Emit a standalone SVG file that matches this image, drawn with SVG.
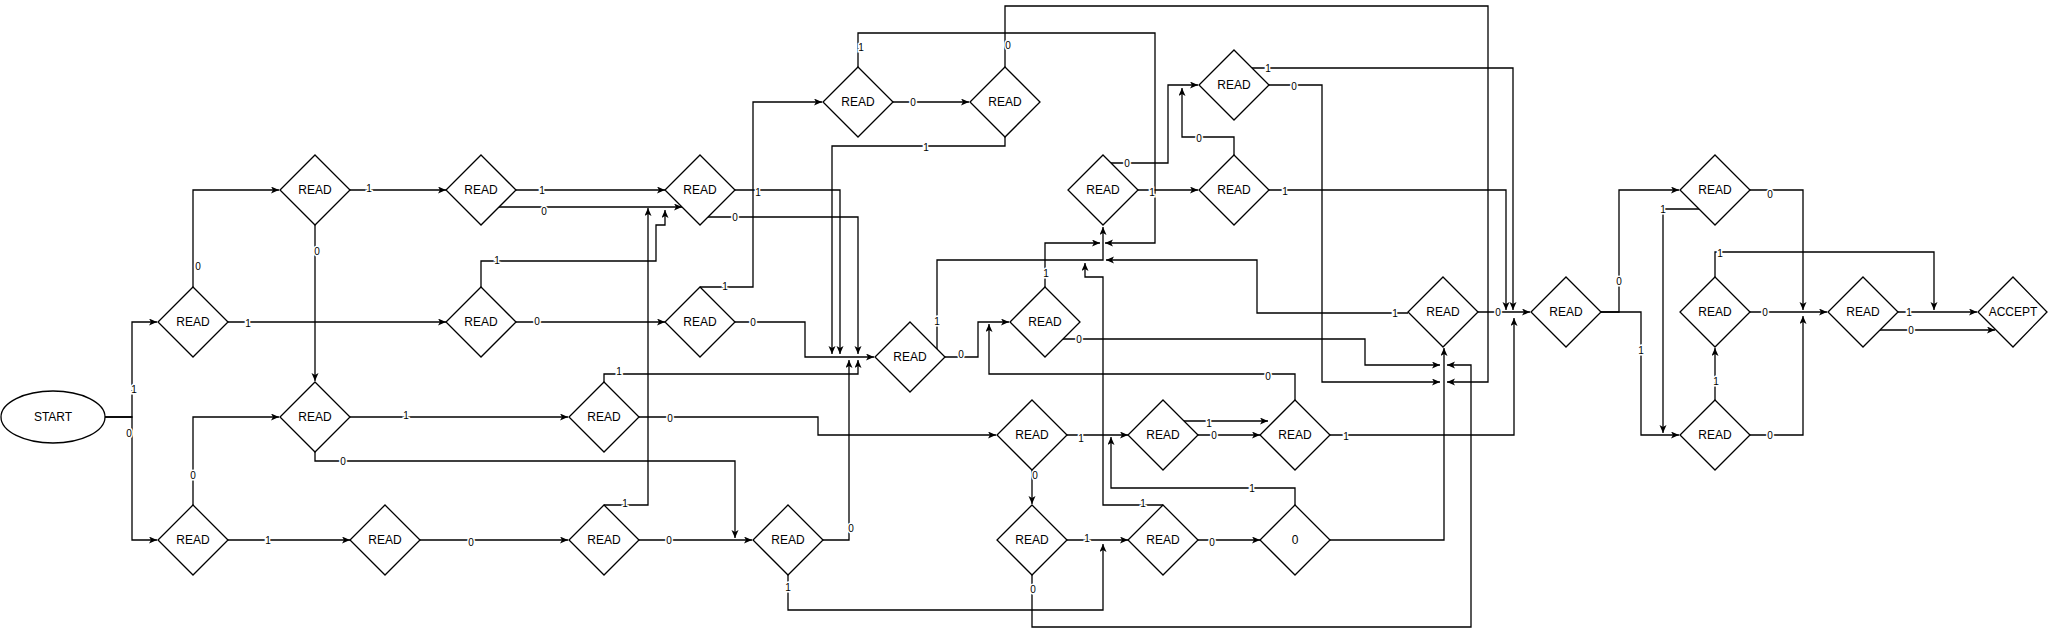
<svg xmlns="http://www.w3.org/2000/svg" width="2048" height="635" viewBox="0 0 2048 635">
<style>
.nd{fill:#fff;stroke:#000;stroke-width:1.3}
.nt{font-family:"Liberation Sans",Arial,sans-serif;font-size:12px;fill:#000;text-anchor:middle;dominant-baseline:central}
.e{fill:none;stroke:#000;stroke-width:1.3}
.a{marker-end:url(#arr)}
.l{font-family:"Liberation Sans",Arial,sans-serif;font-size:10px;fill:#000;text-anchor:middle;dominant-baseline:central;stroke:#fff;stroke-width:3;paint-order:stroke}
</style>
<defs>
<marker id="arr" markerUnits="userSpaceOnUse" markerWidth="9" markerHeight="8" refX="8" refY="3.5" orient="auto">
<path d="M0,0 L8,3.5 L0,7 L2,3.5 z" fill="#000"/>
</marker>
</defs>
<rect width="2048" height="635" fill="#fff"/>
<g id="connectors">
<path class="e a" d="M105,417 H132 V322 H157"/>
<path class="e a" d="M105,417 H132 V540 H157"/>
<path class="e a" d="M193,287 V190 H279"/>
<path class="e a" d="M228,322 H446"/>
<path class="e a" d="M350,190 H446"/>
<path class="e a" d="M315,225 V381"/>
<path class="e a" d="M350,417 H568"/>
<path class="e a" d="M315,452 V461 H735 V538"/>
<path class="e a" d="M193,505 V417 H279"/>
<path class="e a" d="M228,540 H350"/>
<path class="e a" d="M420,540 H568"/>
<path class="e a" d="M516,190 H665"/>
<path class="e a" d="M499,207 H682"/>
<path class="e a" d="M481,287 V261 H656 V225 H665 V210"/>
<path class="e a" d="M516,322 H665"/>
<path class="e a" d="M604,505 H648 V208"/>
<path class="e a" d="M735,190 H840 V354"/>
<path class="e a" d="M708,217 H858 V354"/>
<path class="e a" d="M700,287 H753 V102 H822"/>
<path class="e a" d="M735,322 H805 V357 H874"/>
<path class="e a" d="M893,102 H969"/>
<path class="e a" d="M858,68 V33 H1155 V243 H1105"/>
<path class="e a" d="M1005,68 V6 H1488 V382 H1447"/>
<path class="e a" d="M1005,137 V146 H832 V354"/>
<path class="e a" d="M639,417 H818 V435 H996"/>
<path class="e a" d="M604,383 V374 H858 V360"/>
<path class="e a" d="M639,540 H752"/>
<path class="e a" d="M823,540 H849 V360"/>
<path class="e a" d="M788,575 V610 H1103 V544"/>
<path class="e a" d="M937,349 V260 H1103 V227"/>
<path class="e a" d="M945,357 H978 V322 H1009"/>
<path class="e a" d="M1295,400 V374 H989 V324"/>
<path class="e a" d="M1045,287 V243 H1100"/>
<path class="e a" d="M1063,339 H1365 V365 H1440"/>
<path class="e a" d="M1111,163 H1168 V85 H1198"/>
<path class="e a" d="M1138,190 H1198"/>
<path class="e a" d="M1234,155 V137 H1182 V88"/>
<path class="e a" d="M1252,68 H1513 V310"/>
<path class="e a" d="M1269,85 H1322 V382 H1440"/>
<path class="e a" d="M1269,190 H1506 V310"/>
<path class="e a" d="M1408,313 H1257 V260 H1106"/>
<path class="e a" d="M1163,505 H1103 V277 H1085 V263"/>
<path class="e a" d="M1067,435 H1128"/>
<path class="e a" d="M1032,470 V504"/>
<path class="e a" d="M1184,421 H1268"/>
<path class="e a" d="M1198,435 H1260"/>
<path class="e a" d="M1330,435 H1514 V318"/>
<path class="e a" d="M1295,505 V488 H1111 V437"/>
<path class="e a" d="M1067,540 H1128"/>
<path class="e a" d="M1032,575 V627 H1471 V365 H1447"/>
<path class="e a" d="M1198,540 H1260"/>
<path class="e a" d="M1330,540 H1444 V348"/>
<path class="e a" d="M1478,312 H1530"/>
<path class="e a" d="M1601,312 H1619 V190 H1679"/>
<path class="e a" d="M1601,312 H1641 V435 H1679"/>
<path class="e a" d="M1699,209 H1663 V433"/>
<path class="e a" d="M1750,190 H1803 V310"/>
<path class="e a" d="M1715,277 V252 H1934 V310"/>
<path class="e a" d="M1750,312 H1827"/>
<path class="e a" d="M1715,400 V348"/>
<path class="e a" d="M1750,435 H1803 V316"/>
<path class="e a" d="M1898,312 H1977"/>
<path class="e a" d="M1880,330 H1995"/>
<g id="edge-labels">
<text class="l" x="134" y="389">1</text>
<text class="l" x="129" y="433">0</text>
<text class="l" x="198" y="266">0</text>
<text class="l" x="248" y="323">1</text>
<text class="l" x="369" y="188">1</text>
<text class="l" x="317" y="251">0</text>
<text class="l" x="406" y="415">1</text>
<text class="l" x="343" y="461">0</text>
<text class="l" x="193" y="475">0</text>
<text class="l" x="268" y="540">1</text>
<text class="l" x="471" y="542">0</text>
<text class="l" x="542" y="190">1</text>
<text class="l" x="544" y="211">0</text>
<text class="l" x="497" y="260">1</text>
<text class="l" x="537" y="321">0</text>
<text class="l" x="625" y="503">1</text>
<text class="l" x="758" y="192">1</text>
<text class="l" x="735" y="217">0</text>
<text class="l" x="725" y="286">1</text>
<text class="l" x="753" y="322">0</text>
<text class="l" x="913" y="102">0</text>
<text class="l" x="861" y="47">1</text>
<text class="l" x="1008" y="45">0</text>
<text class="l" x="926" y="147">1</text>
<text class="l" x="670" y="418">0</text>
<text class="l" x="619" y="371">1</text>
<text class="l" x="669" y="540">0</text>
<text class="l" x="851" y="528">0</text>
<text class="l" x="788" y="587">1</text>
<text class="l" x="937" y="321">1</text>
<text class="l" x="961" y="354">0</text>
<text class="l" x="1268" y="376">0</text>
<text class="l" x="1046" y="273">1</text>
<text class="l" x="1079" y="339">0</text>
<text class="l" x="1127" y="163">0</text>
<text class="l" x="1152" y="192">1</text>
<text class="l" x="1199" y="138">0</text>
<text class="l" x="1268" y="68">1</text>
<text class="l" x="1294" y="86">0</text>
<text class="l" x="1285" y="191">1</text>
<text class="l" x="1395" y="313">1</text>
<text class="l" x="1143" y="503">1</text>
<text class="l" x="1081" y="438">1</text>
<text class="l" x="1035" y="475">0</text>
<text class="l" x="1209" y="423">1</text>
<text class="l" x="1214" y="435">0</text>
<text class="l" x="1346" y="436">1</text>
<text class="l" x="1252" y="488">1</text>
<text class="l" x="1087" y="538">1</text>
<text class="l" x="1033" y="589">0</text>
<text class="l" x="1212" y="542">0</text>
<text class="l" x="1498" y="312">0</text>
<text class="l" x="1619" y="281">0</text>
<text class="l" x="1641" y="350">1</text>
<text class="l" x="1663" y="209">1</text>
<text class="l" x="1770" y="194">0</text>
<text class="l" x="1720" y="253">1</text>
<text class="l" x="1765" y="312">0</text>
<text class="l" x="1716" y="381">1</text>
<text class="l" x="1770" y="435">0</text>
<text class="l" x="1909" y="312">1</text>
<text class="l" x="1911" y="330">0</text>
</g>
</g>
<g id="start"><ellipse class="nd" cx="53" cy="417" rx="52" ry="26"/><text class="nt" x="53" y="417">START</text></g>
<g id="n1"><polygon class="nd" points="193,287 228,322 193,357 158,322"/><text class="nt" x="193" y="322">READ</text></g>
<g id="n2"><polygon class="nd" points="193,505 228,540 193,575 158,540"/><text class="nt" x="193" y="540">READ</text></g>
<g id="n3"><polygon class="nd" points="315,155 350,190 315,225 280,190"/><text class="nt" x="315" y="190">READ</text></g>
<g id="n4"><polygon class="nd" points="315,382 350,417 315,452 280,417"/><text class="nt" x="315" y="417">READ</text></g>
<g id="n5"><polygon class="nd" points="385,505 420,540 385,575 350,540"/><text class="nt" x="385" y="540">READ</text></g>
<g id="n6"><polygon class="nd" points="481,155 516,190 481,225 446,190"/><text class="nt" x="481" y="190">READ</text></g>
<g id="n7"><polygon class="nd" points="481,287 516,322 481,357 446,322"/><text class="nt" x="481" y="322">READ</text></g>
<g id="n8"><polygon class="nd" points="604,382 639,417 604,452 569,417"/><text class="nt" x="604" y="417">READ</text></g>
<g id="n9"><polygon class="nd" points="604,505 639,540 604,575 569,540"/><text class="nt" x="604" y="540">READ</text></g>
<g id="n10"><polygon class="nd" points="700,155 735,190 700,225 665,190"/><text class="nt" x="700" y="190">READ</text></g>
<g id="n11"><polygon class="nd" points="700,287 735,322 700,357 665,322"/><text class="nt" x="700" y="322">READ</text></g>
<g id="n12"><polygon class="nd" points="788,505 823,540 788,575 753,540"/><text class="nt" x="788" y="540">READ</text></g>
<g id="n13"><polygon class="nd" points="858,67 893,102 858,137 823,102"/><text class="nt" x="858" y="102">READ</text></g>
<g id="n14"><polygon class="nd" points="1005,67 1040,102 1005,137 970,102"/><text class="nt" x="1005" y="102">READ</text></g>
<g id="n15"><polygon class="nd" points="910,322 945,357 910,392 875,357"/><text class="nt" x="910" y="357">READ</text></g>
<g id="n16"><polygon class="nd" points="1045,287 1080,322 1045,357 1010,322"/><text class="nt" x="1045" y="322">READ</text></g>
<g id="n17"><polygon class="nd" points="1103,155 1138,190 1103,225 1068,190"/><text class="nt" x="1103" y="190">READ</text></g>
<g id="n18"><polygon class="nd" points="1234,50 1269,85 1234,120 1199,85"/><text class="nt" x="1234" y="85">READ</text></g>
<g id="n19"><polygon class="nd" points="1234,155 1269,190 1234,225 1199,190"/><text class="nt" x="1234" y="190">READ</text></g>
<g id="n20"><polygon class="nd" points="1032,400 1067,435 1032,470 997,435"/><text class="nt" x="1032" y="435">READ</text></g>
<g id="n21"><polygon class="nd" points="1163,400 1198,435 1163,470 1128,435"/><text class="nt" x="1163" y="435">READ</text></g>
<g id="n22"><polygon class="nd" points="1295,400 1330,435 1295,470 1260,435"/><text class="nt" x="1295" y="435">READ</text></g>
<g id="n23"><polygon class="nd" points="1032,505 1067,540 1032,575 997,540"/><text class="nt" x="1032" y="540">READ</text></g>
<g id="n24"><polygon class="nd" points="1163,505 1198,540 1163,575 1128,540"/><text class="nt" x="1163" y="540">READ</text></g>
<g id="n25"><polygon class="nd" points="1295,505 1330,540 1295,575 1260,540"/><text class="nt" x="1295" y="540">0</text></g>
<g id="n26"><polygon class="nd" points="1443,277 1478,312 1443,347 1408,312"/><text class="nt" x="1443" y="312">READ</text></g>
<g id="n27"><polygon class="nd" points="1566,277 1601,312 1566,347 1531,312"/><text class="nt" x="1566" y="312">READ</text></g>
<g id="n28"><polygon class="nd" points="1715,155 1750,190 1715,225 1680,190"/><text class="nt" x="1715" y="190">READ</text></g>
<g id="n29"><polygon class="nd" points="1715,277 1750,312 1715,347 1680,312"/><text class="nt" x="1715" y="312">READ</text></g>
<g id="n30"><polygon class="nd" points="1715,400 1750,435 1715,470 1680,435"/><text class="nt" x="1715" y="435">READ</text></g>
<g id="n31"><polygon class="nd" points="1863,277 1898,312 1863,347 1828,312"/><text class="nt" x="1863" y="312">READ</text></g>
<g id="accept"><polygon class="nd" points="2013,277 2047,312 2013,347 1978,312"/><text class="nt" x="2013" y="312">ACCEPT</text></g>
</svg>
